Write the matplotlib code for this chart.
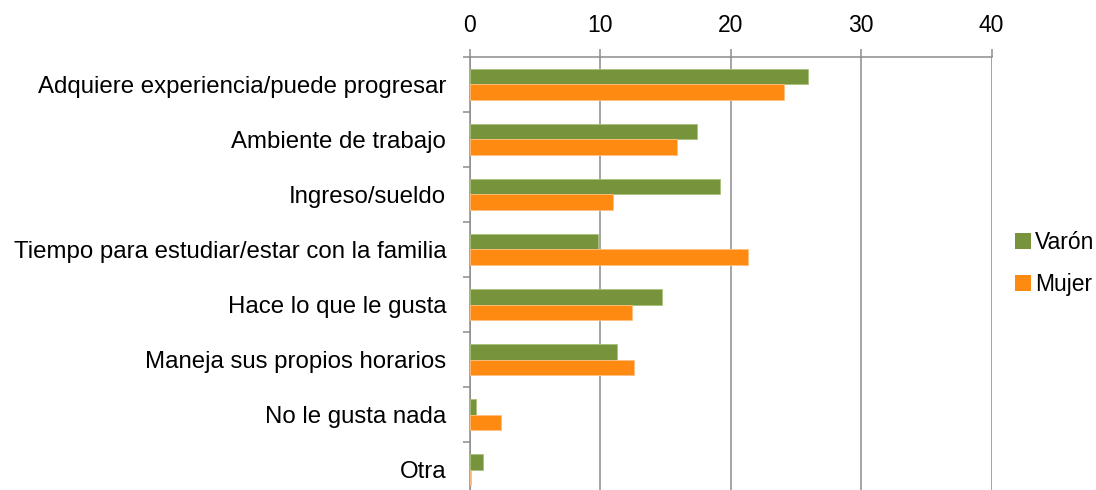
import numpy as np
import matplotlib.pyplot as plt
from matplotlib.patches import Patch

# Datos
categorias = ["Adquiere experiencia/puede progresar", "Ambiente de trabajo", "Ingreso/sueldo",
              "Tiempo para estudiar/estar con la familia", "Hace lo que le gusta",
              "Maneja sus propios horarios", "No le gusta nada", "Otra"]
varon = [25.9, 17.4, 19.2, 9.8, 14.7, 11.3, 0.5, 1.0]
mujer = [24.1, 15.9, 11.0, 21.3, 12.45, 12.55, 2.4, 0.1]
series = ["Varón", "Mujer"]
x_ticks = [0, 10, 20, 30, 40]

verde = '#77933C'
naranja = '#FF8A12'
gris = '#8C8C8C'

plt.rcParams['font.family'] = ['Liberation Sans', 'DejaVu Sans']

fig = plt.figure(figsize=(10.96, 4.9), dpi=100)
ax = fig.add_axes([0.4288, -0.0149, 0.476, 0.8992])

y = np.arange(len(categorias))
h = 0.28
ax.barh(y - h / 2, varon, height=h, color=verde, edgecolor='#A9C27A', linewidth=0.6, zorder=3)
ax.barh(y + h / 2, mujer, height=h, color=naranja, edgecolor='#FFC080', linewidth=0.6, zorder=3)

ax.set_xlim(0, 40)
ax.set_ylim(len(categorias) - 0.5, -0.5)

# Eje x arriba
ax.xaxis.tick_top()
ax.set_xticks(x_ticks)
ax.set_xticklabels([str(t) for t in x_ticks], fontsize=16.5)
ax.tick_params(axis='x', which='major', direction='out', length=6, width=1.1, color=gris, pad=8)
ax.grid(axis='x', color=gris, linewidth=1.1)
ax.set_axisbelow(True)

# Eje y: etiquetas al centro, marcas en los limites
ax.set_yticks(y)
ax.set_yticklabels(categorias, fontsize=17.3)
ax.tick_params(axis='y', which='major', length=0, pad=17)
ax.set_yticks(np.arange(len(categorias) + 1) - 0.5, minor=True)
ax.tick_params(axis='y', which='minor', direction='out', length=5, width=1.1, color=gris)

for s in ['right', 'bottom']:
    ax.spines[s].set_visible(False)
for s in ['top', 'left']:
    ax.spines[s].set_color(gris)
    ax.spines[s].set_linewidth(1.1)

handles = [Patch(facecolor=verde, edgecolor='none'), Patch(facecolor=naranja, edgecolor='none')]
fig.legend(handles, series, loc='center left', bbox_to_anchor=(0.907, 0.462), frameon=False,
           fontsize=16.5, handlelength=0.7, handleheight=0.7, handletextpad=0.2, labelspacing=0.8)

plt.savefig('out.png', dpi=100)
